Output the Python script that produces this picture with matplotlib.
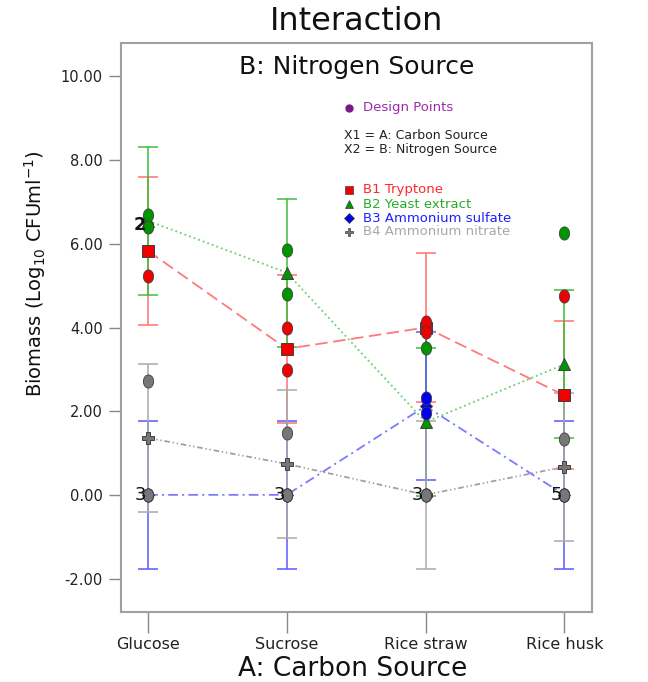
import matplotlib
matplotlib.use("Agg")
import matplotlib.pyplot as plt
from matplotlib.path import Path
from matplotlib.transforms import Affine2D, offset_copy

plt.rcParams['font.family'] = ['DejaVu Sans']
plt.rcParams['lines.scale_dashes'] = False

# ---------------- data ----------------
categories = ["Glucose", "Sucrose", "Rice straw", "Rice husk"]
series_names = ["B1 Tryptone", "B2 Yeast extract", "B3 Ammonium sulfate", "B4 Ammonium nitrate"]

mean_b1 = [5.83, 3.49, 4.00, 2.38]
mean_b2 = [6.55, 5.31, 1.74, 3.12]
mean_b3 = [0.00, 0.00, 2.12, 0.00]
mean_b4 = [1.36, 0.74, 0.00, 0.67]
half_lsd = [1.77, 1.77, 1.77, 1.77]

pts_b1 = [[5.23, 6.43], [3.99, 2.98], [4.13, 3.90], [4.76, 0.00]]
pts_b2 = [[6.70, 6.40], [5.85, 4.80], [3.51, 0.00], [6.26, 0.00]]
pts_b3 = [[0.00, 0.00], [0.00, 0.00], [2.31, 1.96], [0.00, 0.00]]
pts_b4 = [[2.73, 0.00], [1.48, 0.00], [0.00, 0.00], [1.34, 0.00]]

count_cat = [0, 0, 1, 2, 3]
count_val = [6.45, 0.0, 0.0, 0.0, 0.0]
count_text = ["2", "3", "3", "3", "5"]

yticks = [-2, 0, 2, 4, 6, 8, 10]

# ---------------- styles ----------------
means = [mean_b1, mean_b2, mean_b3, mean_b4]
points = [pts_b1, pts_b2, pts_b3, pts_b4]
err_colors = ["#ff7070", "#3cbe3c", "#5a5aff", "#aaaaaa"]
line_colors = ["#ff7a7a", "#6ccf6c", "#7a7aff", "#a0a0a0"]
line_styles = [(0, (9, 4)), (0, (1.3, 2.2)), (0, (7, 3, 1.5, 3)), (0, (4, 2, 1, 2, 1, 2))]
pt_colors = ["#f00000", "#009600", "#0000f0", "#777777"]
mean_markers = ["s", "^", "D", "P"]
mean_sizes = [8, 9, 6, 8.5]
legend_text_colors = ["#ff2828", "#2aaa2a", "#1e1eff", "#a8a8a8"]
legend_markers = ["s", "^", "D", "P"]

ellipse = Path.unit_circle().transformed(Affine2D().scale(0.78, 1.0))

fig = plt.figure(figsize=(6.48, 6.82), dpi=100)
ax = fig.add_axes([121/648, 1-612/682, 471/648, 569/682])

x = list(range(len(categories)))

for i in range(4):
    ax.errorbar(x, means[i], yerr=half_lsd[i], fmt='none', ecolor=err_colors[i],
                elinewidth=1.1, capsize=7.5, capthick=1.1, zorder=1 + i * 0.1)

for i in range(4):
    ax.plot(x, means[i], color=line_colors[i], lw=1.3, linestyle=line_styles[i], zorder=2)

for i in range(4):
    ax.plot(x, means[i], linestyle='none', marker=mean_markers[i], markersize=mean_sizes[i],
            markerfacecolor=pt_colors[i], markeredgecolor="#404040", markeredgewidth=0.7,
            zorder=2.5)

for i in range(4):
    for j, vals in enumerate(points[i]):
        ax.plot([x[j]] * len(vals), vals, linestyle='none', marker=ellipse, markersize=9.5,
                markerfacecolor=pt_colors[i], markeredgecolor="#404040",
                markeredgewidth=0.6, zorder=3)

for c, v, t in zip(count_cat, count_val, count_text):
    tr = offset_copy(ax.transData, fig=fig, x=-2, y=0, units='dots')
    ax.text(c, v, t, transform=tr, ha='right', va='center', fontsize=13,
            fontweight='bold' if t == "2" else 'normal', color='#111111', zorder=5)

ax.set_xlim(-0.195, 3.2)
ax.set_ylim(-2.8, 10.8)
ax.set_xticks(x)
ax.set_xticklabels(categories, fontsize=11.5)
ax.set_yticks(yticks)
ax.set_yticklabels([f"{v:.2f}" for v in yticks], fontsize=10.5)
ax.tick_params(axis='y', length=9, width=1, color='#888888', pad=4, labelcolor='#222222')
ax.tick_params(axis='x', length=15, width=1, color='#888888', pad=3, labelcolor='#222222')
for s in ax.spines.values():
    s.set_color('#a0a0a0')
    s.set_linewidth(1.5)

# in-axes texts
ax.text(0.5, 0.958, "B: Nitrogen Source", transform=ax.transAxes, ha='center', va='center',
        fontsize=18, color='#111111')
ax.plot([0.484], [0.886], transform=ax.transAxes, marker='o', markersize=5,
        color='#7a1a8a', clip_on=False, linestyle='none')
ax.text(0.514, 0.886, "Design Points", transform=ax.transAxes, ha='left', va='center',
        fontsize=9.5, color='#9a2aa8')
ax.text(0.473, 0.8366, "X1 = A: Carbon Source", transform=ax.transAxes, ha='left',
        va='center', fontsize=9, color='#222222')
ax.text(0.473, 0.812, "X2 = B: Nitrogen Source", transform=ax.transAxes, ha='left',
        va='center', fontsize=9, color='#222222')
leg_y = [0.7417, 0.717, 0.6924, 0.668]
for i in range(4):
    ax.plot([0.484], [leg_y[i]], transform=ax.transAxes, marker=legend_markers[i],
            markersize=5.5, markerfacecolor=pt_colors[i], markeredgecolor='#404040',
            markeredgewidth=0.5, clip_on=False, linestyle='none')
    ax.text(0.514, leg_y[i], series_names[i], transform=ax.transAxes, ha='left',
            va='center', fontsize=9.5, color=legend_text_colors[i])

fig.text(357/648, 1-22/682, "Interaction", ha='center', va='center', fontsize=23,
         color='#111111')
fig.text(353/648, 1-669/682, "A: Carbon Source", ha='center', va='center', fontsize=19,
         color='#111111')
fig.text(35/648, 1-274/682, r"Biomass (Log$_{10}$ CFUml$^{-1}$)", ha='center', va='center',
         rotation=90, fontsize=14, color='#111111')

fig.savefig("out.png", dpi=100, facecolor='white')
